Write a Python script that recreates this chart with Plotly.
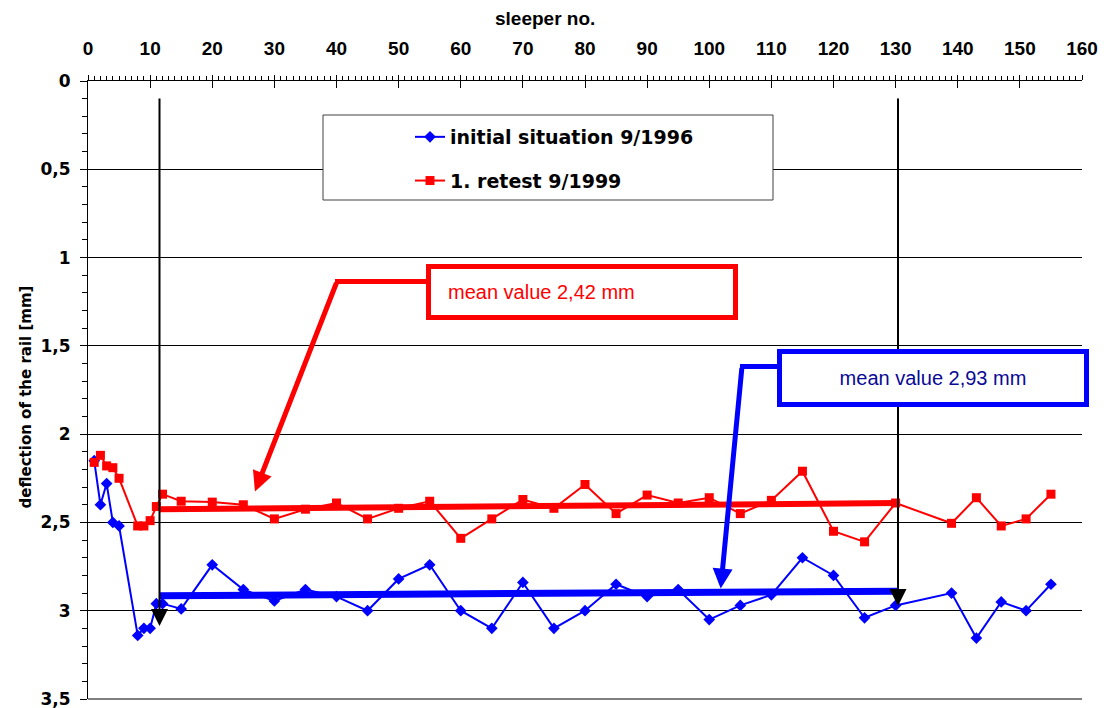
import plotly.graph_objects as go

# ---------------- data ----------------
sleeper_no = [1, 2, 3, 4, 5, 8, 9, 10, 11, 12, 15, 20, 25, 30, 35, 40, 45, 50, 55, 60,
              65, 70, 75, 80, 85, 90, 95, 100, 105, 110, 115, 120, 125, 130,
              139, 143, 147, 151, 155]
initial_1996 = [2.15, 2.40, 2.28, 2.50, 2.52, 3.14, 3.10, 3.10, 2.96, 2.96, 2.99, 2.74,
                2.88, 2.945, 2.88, 2.92, 3.00, 2.82, 2.74, 3.00, 3.10, 2.84, 3.10, 3.00,
                2.85, 2.92, 2.88, 3.05, 2.97, 2.91, 2.70, 2.80, 3.04, 2.97,
                2.90, 3.155, 2.95, 3.00, 2.85]
retest_1999 = [2.16, 2.12, 2.18, 2.19, 2.25, 2.52, 2.52, 2.49, 2.41, 2.34, 2.38, 2.385,
               2.40, 2.48, 2.425, 2.39, 2.48, 2.42, 2.38, 2.59, 2.48, 2.37, 2.42, 2.285,
               2.45, 2.345, 2.39, 2.36, 2.45, 2.375, 2.21, 2.55, 2.61, 2.39,
               2.505, 2.36, 2.52, 2.48, 2.34]
mean_x = [11.5, 130.3]
mean_line_1996 = [2.915, 2.89]
mean_line_1999 = [2.425, 2.39]
series_names = ["initial situation 9/1996", "1. retest 9/1999"]
mean_labels = ["mean value 2,93 mm", "mean value 2,42 mm"]
y_tick_vals = [0, 0.5, 1, 1.5, 2, 2.5, 3, 3.5]
y_tick_text = ["0", "0,5", "1", "1,5", "2", "2,5", "3", "3,5"]
x_title = "sleeper no."
y_title = "deflection of the rail [mm]"

# ---------------- geometry helpers ----------------
W, H = 1104, 708
L, R, T, B = 88, 1082, 81, 699
XMAX, YMAX = 160, 3.5


def px_x(p):
    return (p - L) / (R - L)


def px_y(p):
    return (B - p) / (B - T)


def dx(p):
    return (p - L) / (R - L) * XMAX


def dy(p):
    return (p - T) / (B - T) * YMAX


BLUE = "#0000FF"
RED = "#FF0000"
BOLD_WIDE = "DejaVu Sans"
ARIAL = "Liberation Sans"
NARROW = "Liberation Sans Narrow, Arial Narrow, Liberation Sans"

fig = go.Figure()

fig.add_trace(go.Scatter(
    x=sleeper_no, y=initial_1996, name=series_names[0], mode="lines+markers",
    line=dict(color=BLUE, width=2), marker=dict(symbol="diamond", size=9, color=BLUE),
    legendgroup="a"))
fig.add_trace(go.Scatter(
    x=sleeper_no, y=retest_1999, name=series_names[1], mode="lines+markers",
    line=dict(color=RED, width=2), marker=dict(symbol="square", size=9, color=RED),
    legendgroup="b"))
fig.add_trace(go.Scatter(
    x=mean_x, y=mean_line_1999, mode="lines", line=dict(color=RED, width=6),
    showlegend=False, hoverinfo="skip"))
fig.add_trace(go.Scatter(
    x=mean_x, y=mean_line_1996, mode="lines", line=dict(color=BLUE, width=7),
    showlegend=False, hoverinfo="skip"))
# invisible trace so the crossing-tick helper axis is drawn
fig.add_trace(go.Scatter(x=[None], y=[None], xaxis="x2", yaxis="y",
                         showlegend=False, hoverinfo="skip"))

shapes = [
    # bottom frame line at 3,5 (plotly clips grid lines lying on the plot edge)
    dict(type="line", xref="paper", yref="paper", layer="below",
         x0=0, x1=1, y0=0, y1=0, line=dict(color="black", width=1)),
    # legend box
    dict(type="rect", xref="paper", yref="paper", layer="above",
         x0=px_x(323), x1=px_x(773), y0=px_y(200), y1=px_y(115),
         line=dict(color="#404040", width=1), fillcolor="white"),
    # red mean-value box
    dict(type="rect", xref="paper", yref="paper", layer="above",
         x0=px_x(428.5), x1=px_x(735.5), y0=px_y(317.5), y1=px_y(266.5),
         line=dict(color=RED, width=5), fillcolor="white"),
    # red arrow horizontal segment
    dict(type="line", xref="x", yref="y", layer="above",
         x0=dx(335), x1=dx(427), y0=dy(281.5), y1=dy(281.5),
         line=dict(color=RED, width=5)),
    # blue arrow horizontal segment
    dict(type="line", xref="x", yref="y", layer="above",
         x0=dx(740), x1=dx(779), y0=dy(366.5), y1=dy(366.5),
         line=dict(color=BLUE, width=5)),
]

annotations = [
    # black vertical arrows marking the section
    dict(x=dx(159.5), y=dy(626), ax=dx(159.5), ay=dy(97), xref="x", yref="y",
         axref="x", ayref="y", text="", showarrow=True, arrowhead=2, arrowsize=1.7,
         arrowwidth=2, arrowcolor="black", standoff=0),
    dict(x=dx(898), y=dy(606), ax=dx(898), ay=dy(97), xref="x", yref="y",
         axref="x", ayref="y", text="", showarrow=True, arrowhead=2, arrowsize=1.7,
         arrowwidth=2, arrowcolor="black", standoff=0),
    # red pointer arrow
    dict(x=dx(255), y=dy(491.5), ax=dx(337), ay=dy(281.5), xref="x", yref="y",
         axref="x", ayref="y", text="", showarrow=True, arrowhead=2, arrowsize=0.8,
         arrowwidth=5, arrowcolor=RED, standoff=0),
    # blue pointer arrow
    dict(x=dx(720.7), y=dy(588.5), ax=dx(742), ay=dy(366.5), xref="x", yref="y",
         axref="x", ayref="y", text="", showarrow=True, arrowhead=2, arrowsize=0.8,
         arrowwidth=5, arrowcolor=BLUE, standoff=0),
    # red label text
    dict(x=px_x(446), y=px_y(292), xref="paper", yref="paper", xanchor="left",
         yanchor="middle", text=mean_labels[1], showarrow=False,
         font=dict(family=ARIAL, size=20, color=RED)),
    # blue box with label (drawn above the black arrow line)
    dict(x=px_x(933), y=px_y(378), xref="paper", yref="paper", xanchor="center",
         yanchor="middle", text=mean_labels[0], showarrow=False,
         font=dict(family=ARIAL, size=20, color="#0a0a96"),
         bgcolor="white", bordercolor=BLUE, borderwidth=5, borderpad=3,
         width=296, height=42),
    # axis titles
    dict(x=px_x(545), y=px_y(18), xref="paper", yref="paper", xanchor="center",
         yanchor="middle", text=x_title, showarrow=False,
         font=dict(family=NARROW, size=19, color="black", weight="bold")),
    dict(x=px_x(25.5), y=px_y(397), xref="paper", yref="paper", xanchor="center",
         yanchor="middle", text=y_title, showarrow=False, textangle=-90,
         font=dict(family=BOLD_WIDE, size=15, color="black", weight="bold")),
]

fig.update_layout(
    width=W, height=H,
    margin=dict(l=L, r=W - R, t=T, b=H - B, pad=0, autoexpand=False),
    paper_bgcolor="white", plot_bgcolor="white",
    showlegend=True,
    legend=dict(x=px_x(410), y=px_y(118), xanchor="left", yanchor="top",
                bgcolor="rgba(0,0,0,0)", borderwidth=0,
                font=dict(family=BOLD_WIDE, size=19, color="black", weight="bold"),
                traceorder="grouped", tracegroupgap=16, itemwidth=30),
    xaxis=dict(range=[0, XMAX], side="top", showline=True, linecolor="black",
               linewidth=1, ticks="outside", ticklen=5, tickcolor="black",
               tick0=0, dtick=10, showgrid=False, zeroline=False, automargin=False,
               ticklabelstandoff=12,
               tickfont=dict(family=NARROW, size=19, color="black", weight="bold"),
               minor=dict(ticks="outside", ticklen=4, dtick=1, tickcolor="black",
                          showgrid=False)),
    xaxis2=dict(range=[0, XMAX], overlaying="x", matches="x", side="top",
                anchor="y", showline=False, ticks="inside", ticklen=7,
                tickcolor="black", tick0=0, dtick=10, showticklabels=False,
                showgrid=False, zeroline=False, automargin=False),
    yaxis=dict(range=[YMAX, 0], showline=True, linecolor="black", linewidth=1,
               ticks="outside", ticklen=7, tickcolor="black",
               tickvals=y_tick_vals, ticktext=y_tick_text,
               showgrid=True, gridcolor="black", gridwidth=1, zeroline=False,
               automargin=False,
               ticklabelstandoff=6, ticklabeloverflow="allow",
               tickfont=dict(family=BOLD_WIDE, size=17, color="black", weight="bold"),
               minor=dict(ticks="outside", ticklen=5, dtick=0.1, tick0=0,
                          tickcolor="black", showgrid=False)),
    shapes=shapes,
    annotations=annotations,
)

fig.write_html("out.html", config={"displayModeBar": False},
               post_script="document.body.style.margin='0';")
